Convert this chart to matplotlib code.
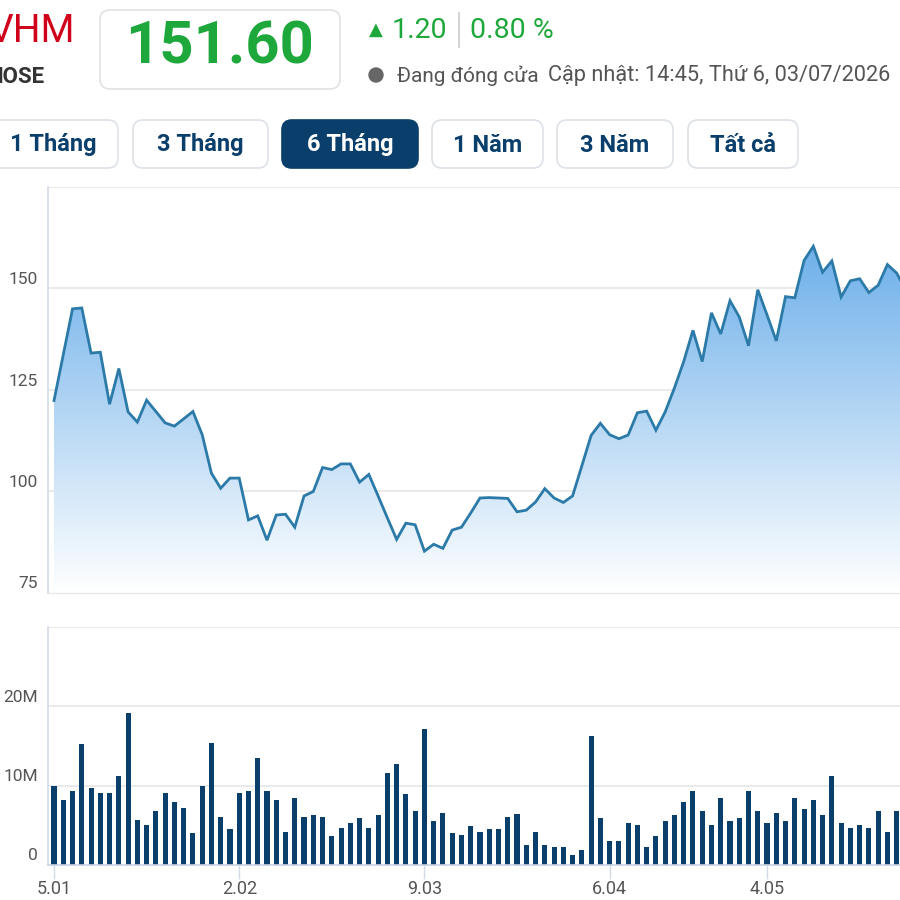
import numpy as np
import matplotlib
matplotlib.use("Agg")
import matplotlib.pyplot as plt
from matplotlib.colors import LinearSegmentedColormap
from matplotlib.patches import FancyBboxPatch, Circle
from matplotlib.lines import Line2D

plt.rcParams['font.family'] = ['Roboto', 'DejaVu Sans']

# closing price per trading day (visible part of the 6-month window)
price = [122.4, 133.7, 145.0, 145.2, 134.1, 134.3, 121.5, 130.3, 119.6, 117.1,
         122.5, 119.7, 116.9, 116.1, 117.9, 119.7, 114.0, 104.5, 100.8, 103.3,
         103.3, 93.0, 94.0, 88.0, 94.2, 94.4, 91.2, 98.9, 100.0, 105.9,
         105.4, 106.8, 106.8, 102.3, 104.2, 98.9, 93.5, 88.2, 92.2, 91.8,
         85.3, 87.0, 86.0, 90.5, 91.2, 94.7, 98.4, 98.5, 98.4, 98.3,
         95.0, 95.4, 97.4, 100.7, 98.4, 97.3, 98.9, 106.3, 113.8, 116.8,
         114.0, 113.0, 113.9, 119.4, 119.8, 115.1, 119.6, 125.5, 132.0, 139.7,
         132.0, 144.0, 138.8, 147.0, 143.0, 135.9, 149.7, 143.5, 137.1, 148.0,
         147.7, 156.9, 160.4, 154.0, 156.8, 147.9, 151.9, 152.4, 149.0, 150.8,
         155.9, 153.8, 149.5]

# traded volume, millions of shares
volume_m = [10.0, 8.2, 9.3, 15.2, 9.7, 9.1, 9.1, 11.2, 19.2, 5.7,
            5.1, 6.8, 9.1, 7.9, 7.2, 4.0, 10.0, 15.4, 6.1, 4.5,
            9.1, 9.3, 13.5, 9.3, 8.2, 4.2, 8.4, 6.1, 6.3, 6.1,
            3.6, 4.7, 5.3, 5.9, 4.7, 6.3, 11.6, 12.7, 8.9, 6.8,
            17.1, 5.5, 6.6, 4.0, 3.8, 4.9, 4.2, 4.5, 4.5, 6.0,
            6.4, 2.5, 4.2, 2.5, 2.3, 2.3, 1.3, 1.9, 16.3, 5.9,
            3.0, 3.0, 5.3, 5.0, 2.3, 3.6, 5.5, 6.3, 8.0, 9.3,
            6.8, 5.0, 8.4, 5.5, 5.9, 9.3, 6.8, 5.3, 6.6, 5.5,
            8.4, 7.0, 8.2, 6.3, 11.2, 5.3, 4.7, 5.0, 4.7, 6.8,
            4.2, 6.8]

tick_pos = [0, 20, 40, 60, 77]
tick_labels = ['5.01', '2.02', '9.03', '6.04', '4.05']
price_ticks = [75, 100, 125, 150]
vol_ticks = [0, 10, 20]
periods = ['1 Tháng', '3 Tháng', '6 Tháng', '1 Năm', '3 Năm', 'Tất cả']
active_period = '6 Tháng'

W = H = 900
GREEN = '#1ea83c'
NAVY = '#0b3f6b'
LABEL = '#555555'
GRID = '#e6e6e6'
SPINE = '#d3dae4'


def fx(px):
    return px / W


def fy(py):
    return 1 - py / H


fig = plt.figure(figsize=(9, 9), dpi=100)
fig.patch.set_facecolor('white')

# ---- header ----
fig.text(fx(75), fy(32), 'VHM', color='#d0021b', fontsize=28, ha='right', va='center')
fig.text(fx(45), fy(77), 'HOSE', color='#333333', fontsize=16, fontweight='bold',
         ha='right', va='center')
fig.add_artist(FancyBboxPatch((fx(100), fy(89)), fx(240), fx(79),
                              boxstyle='round,pad=0,rounding_size=0.011',
                              ec='#e2e2e2', fc='white', lw=1.2, transform=fig.transFigure))
fig.text(fx(220), fy(48), '151.60', color=GREEN, fontsize=43, fontweight='bold',
         ha='center', va='center')
fig.text(fx(376), fy(30), '▲', color=GREEN, fontsize=13, ha='center', va='center')
fig.text(fx(392), fy(30), '1.20', color=GREEN, fontsize=20.5, ha='left', va='center')
fig.add_artist(Line2D([fx(459), fx(459)], [fy(13), fy(47)], color='#cccccc', lw=1.2,
                      transform=fig.transFigure))
fig.text(fx(470), fy(30), '0.80 %', color=GREEN, fontsize=20.5, ha='left', va='center')
fig.add_artist(Circle((fx(376), fy(75)), fx(7), color='#666666', transform=fig.transFigure))
fig.text(fx(397), fy(76), 'Đang đóng cửa', color=LABEL, fontsize=15, ha='left', va='center')
fig.text(fx(548), fy(76), 'Cập nhật: 14:45, Thứ 6, 03/07/2026', color=LABEL, fontsize=15.7,
         ha='left', va='center')

# ---- period buttons ----
btn_x = [(-12, 118), (133, 268), (282, 418), (432, 543), (557, 673), (688, 798)]
for label, (x0, x1) in zip(periods, btn_x):
    on = label == active_period
    fig.add_artist(FancyBboxPatch((fx(x0), fy(168)), fx(x1 - x0), fx(48),
                                  boxstyle='round,pad=0,rounding_size=0.011',
                                  ec=NAVY if on else '#dde2e8', fc=NAVY if on else 'white',
                                  lw=1.2, transform=fig.transFigure))
    fig.text(fx((x0 + x1) / 2), fy(145), label, color='white' if on else NAVY,
             fontsize=17, fontweight='bold', ha='center', va='center')

# ---- price panel ----
x = np.arange(len(price))
xlim = (-0.65, 91.36)
ax = fig.add_axes([fx(48), fy(593), fx(900) - fx(48), fy(187) - fy(593)])
ymin, ymax = 75, 175

poly = ax.fill_between(x, price, ymin, color='none', lw=0)
cmap = LinearSegmentedColormap.from_list('fade', ['#ffffff', '#6eb0ea'])
grad = np.linspace(0, 1, 256).reshape(-1, 1)
img = ax.imshow(grad, extent=[x[0], x[-1], ymin, max(price)], origin='lower',
                aspect='auto', cmap=cmap, zorder=1)
img.set_clip_path(poly.get_paths()[0], transform=ax.transData)
ax.plot(x, price, color='#2b7aa8', lw=2, zorder=3, solid_joinstyle='miter')

for v in [100, 125, 150, 175]:
    ax.axhline(v, color=GRID, lw=1.2, zorder=0)
for v in price_ticks:
    ax.annotate(str(v), xy=(0, v), xycoords=('axes fraction', 'data'),
                xytext=(-10, 9), textcoords='offset pixels', ha='right', va='center',
                fontsize=12.5, color=LABEL)
ax.set_xlim(*xlim)
ax.set_ylim(ymin, ymax)
ax.set_xticks([])
ax.set_yticks([])
for s in ['top', 'right']:
    ax.spines[s].set_visible(False)
ax.spines['bottom'].set_color(GRID)
ax.spines['left'].set_color(SPINE)
ax.spines['left'].set_linewidth(1.2)

# ---- volume panel ----
vax = fig.add_axes([fx(48), fy(865), fx(900) - fx(48), fy(627) - fy(865)])
xv = np.arange(len(volume_m))
vax.bar(xv, volume_m, width=0.55, color=NAVY, zorder=2)
for v in [10, 20, 30]:
    vax.axhline(v, color=GRID, lw=1.2, zorder=0)
for v in vol_ticks:
    vax.annotate('0' if v == 0 else f'{v}M', xy=(0, v), xycoords=('axes fraction', 'data'),
                 xytext=(-10, 9), textcoords='offset pixels', ha='right', va='center',
                 fontsize=12.5, color=LABEL)
vax.set_xlim(*xlim)
vax.set_ylim(0, 30)
vax.set_yticks([])
vax.set_xticks(tick_pos, tick_labels)
vax.tick_params(axis='x', length=10, width=1, color=SPINE, labelcolor=LABEL,
                labelsize=13, pad=0.5)
for s in ['top', 'right']:
    vax.spines[s].set_visible(False)
vax.spines['bottom'].set_color('#c9d3e3')
vax.spines['bottom'].set_linewidth(1.2)
vax.spines['left'].set_color(SPINE)
vax.spines['left'].set_linewidth(1.2)

fig.savefig('out.png', dpi=100, facecolor='white')
